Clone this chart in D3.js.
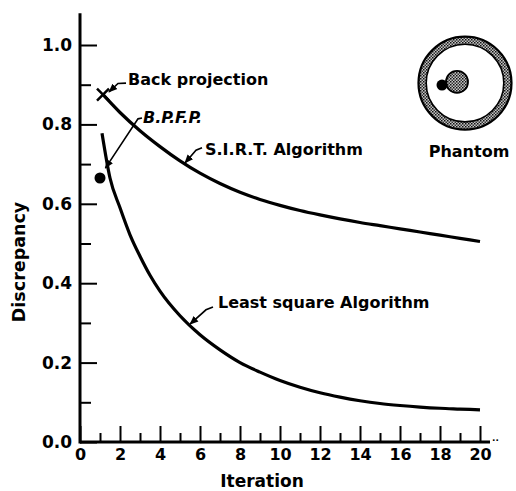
<!DOCTYPE html>
<html>
<head>
<meta charset="utf-8">
<script src="https://cdn.jsdelivr.net/npm/d3@7/dist/d3.min.js"></script>
<style>
  body { margin: 0; background: #fff; }
  svg { display: block; }
  text { font-family: "DejaVu Sans", sans-serif; font-weight: bold; fill: #000; }
</style>
</head>
<body>
<svg width="516" height="491"></svg>
<script>
// values
var sirtIter = [1.15, 2, 3, 4, 5, 6, 7, 8, 9, 10, 11, 12, 13, 14, 15, 16, 17, 18, 19, 20];
var sirtVals = [0.875, 0.83, 0.784, 0.744, 0.708, 0.677, 0.651, 0.629, 0.611, 0.596,
                0.583, 0.572, 0.562, 0.553, 0.545, 0.537, 0.529, 0.521, 0.513, 0.505];
var lsqIter = [1.1, 1.5, 2, 2.5, 3, 3.5, 4, 5, 6, 7, 8, 9, 10, 11, 12, 13, 14, 15, 16, 17, 18, 19, 20];
var lsqVals = [0.778, 0.665, 0.59, 0.522, 0.468, 0.42, 0.38, 0.318, 0.27, 0.232, 0.20, 0.176, 0.155,
               0.138, 0.124, 0.113, 0.104, 0.097, 0.092, 0.088, 0.085, 0.083, 0.081];
var backProj = {it: 1.15, v: 0.875};
var bpfp = {it: 1.0, v: 0.665};
var xMajor = [0, 2, 4, 6, 8, 10, 12, 14, 16, 18, 20];
var xMinor = [1, 3, 5, 7, 9, 11, 13, 15, 17, 19];
var yMajor = [0, 0.2, 0.4, 0.6, 0.8, 1.0];
var yMinor = [0.1, 0.3, 0.5, 0.7, 0.9];

var svg = d3.select('svg');
var x = d3.scaleLinear().domain([0, 20]).range([80, 480]);
var y = d3.scaleLinear().domain([0, 1]).range([442, 45]);

// stipple for the phantom
var defs = svg.append('defs');
var pat = defs.append('pattern').attr('id', 'stip')
  .attr('width', 3).attr('height', 3).attr('patternUnits', 'userSpaceOnUse');
pat.append('rect').attr('width', 3).attr('height', 3).attr('fill', '#c4c4c4');
pat.append('rect').attr('width', 1.5).attr('height', 1.5).attr('fill', '#111');
pat.append('rect').attr('x', 1.5).attr('y', 1.5).attr('width', 1.5).attr('height', 1.5).attr('fill', '#333');

defs.append('marker').attr('id', 'arr')
  .attr('viewBox', '0 0 10 10').attr('refX', 9).attr('refY', 5)
  .attr('markerWidth', 9).attr('markerHeight', 9).attr('markerUnits', 'userSpaceOnUse')
  .attr('orient', 'auto')
  .append('path').attr('d', 'M0,1L10,5L0,9Z').attr('fill', '#000');

// axes
var yAx = svg.append('g').attr('transform', 'translate(' + x(0) + ',0)')
  .call(d3.axisLeft(y).tickValues(yMajor).tickSize(-17).tickPadding(8)
    .tickFormat(d3.format('.1f')));
svg.append('g').attr('transform', 'translate(' + x(0) + ',0)')
  .call(d3.axisLeft(y).tickValues(yMinor).tickSize(-11).tickFormat(''));
var xAx = svg.append('g').attr('transform', 'translate(0,' + y(0) + ')')
  .call(d3.axisBottom(x).tickValues(xMajor).tickSize(-16).tickPadding(7));
svg.append('g').attr('transform', 'translate(0,' + y(0) + ')')
  .call(d3.axisBottom(x).tickValues(xMinor).tickSize(-9).tickFormat(''));

svg.selectAll('.domain').remove();
svg.selectAll('.tick line').attr('stroke', '#000').attr('stroke-width', 2);
svg.selectAll('.tick text').style('font-size', '16px').attr('fill', '#000');
yAx.selectAll('.tick text').style('font-size', '17px');

svg.append('line').attr('x1', x(0)).attr('x2', x(0)).attr('y1', y(0) + 1.5).attr('y2', y(1.08))
  .attr('stroke', '#000').attr('stroke-width', 3);
svg.append('line').attr('x1', x(0)).attr('x2', x(20.5)).attr('y1', y(0)).attr('y2', y(0))
  .attr('stroke', '#000').attr('stroke-width', 3);
svg.append('text').attr('x', x(20.6)).attr('y', y(0) - 1).style('font-size', '9px').text('..');

svg.append('text').attr('x', 262).attr('y', 487).attr('text-anchor', 'middle')
  .style('font-size', '17px').text('Iteration');
svg.append('text').attr('transform', 'translate(25,262) rotate(-90)').attr('text-anchor', 'middle')
  .style('font-size', '17.5px').text('Discrepancy');

// curves
var line = d3.line().curve(d3.curveMonotoneX)
  .x(function(d) { return x(d[0]); }).y(function(d) { return y(d[1]); });
svg.append('path').datum(d3.zip(sirtIter, sirtVals)).attr('d', line)
  .attr('fill', 'none').attr('stroke', '#000').attr('stroke-width', 3.2);
svg.append('path').datum(d3.zip(lsqIter, lsqVals)).attr('d', line)
  .attr('fill', 'none').attr('stroke', '#000').attr('stroke-width', 3.2);

// markers
var bx = x(backProj.it), by = y(backProj.v);
svg.append('path').attr('d', 'M' + (bx - 6) + ',' + (by - 6) + 'L' + (bx + 6) + ',' + (by + 6) +
  'M' + (bx - 6) + ',' + (by + 6) + 'L' + (bx + 6) + ',' + (by - 6))
  .attr('stroke', '#000').attr('stroke-width', 2.5);
svg.append('circle').attr('cx', x(bpfp.it)).attr('cy', y(bpfp.v)).attr('r', 5.5).attr('fill', '#000');

// labels with leader arrows (data coords)
var notes = [
  {t: 'Back projection', tx: 2.4, ty: 0.899, size: 16, style: 'normal',
   path: [[2.3, 0.904], [1.9, 0.903], [1.45, 0.882]]},
  {t: 'B.P.F.P.', tx: 3.15, ty: 0.804, size: 16, style: 'italic',
   path: [[3.1, 0.816], [2.9, 0.814], [1.27, 0.69]]},
  {t: 'S.I.R.T. Algorithm', tx: 6.25, ty: 0.723, size: 16, style: 'normal',
   path: [[6.1, 0.741], [5.8, 0.735], [5.25, 0.703]]},
  {t: 'Least square Algorithm', tx: 6.9, ty: 0.338, size: 16, style: 'normal',
   path: [[6.65, 0.34], [6.3, 0.333], [5.5, 0.297]]}
];
var lead = d3.line().curve(d3.curveLinear)
  .x(function(d) { return x(d[0]); }).y(function(d) { return y(d[1]); });
notes.forEach(function(n) {
  svg.append('text').attr('x', x(n.tx)).attr('y', y(n.ty))
    .style('font-size', n.size + 'px').style('font-style', n.style).text(n.t);
  svg.append('path').attr('d', lead(n.path)).attr('fill', 'none')
    .attr('stroke', '#000').attr('stroke-width', 1.6).attr('marker-end', 'url(#arr)');
});

// phantom sketch
var pcx = x(19.25), pcy = y(0.904);
svg.append('circle').attr('cx', pcx).attr('cy', pcy).attr('r', 42.5)
  .attr('fill', 'none').attr('stroke', 'url(#stip)').attr('stroke-width', 7.5);
svg.append('circle').attr('cx', pcx).attr('cy', pcy).attr('r', 46.5)
  .attr('fill', 'none').attr('stroke', '#000').attr('stroke-width', 2.2);
svg.append('circle').attr('cx', pcx).attr('cy', pcy).attr('r', 38.8)
  .attr('fill', 'none').attr('stroke', '#000').attr('stroke-width', 1.6);
svg.append('circle').attr('cx', x(18.85)).attr('cy', y(0.907)).attr('r', 11)
  .attr('fill', 'url(#stip)').attr('stroke', '#000').attr('stroke-width', 1.8);
svg.append('circle').attr('cx', x(18.1)).attr('cy', y(0.899)).attr('r', 5.5).attr('fill', '#000');
svg.append('text').attr('x', x(19.45)).attr('y', y(0.718)).attr('text-anchor', 'middle')
  .style('font-size', '16px').text('Phantom');
</script>
</body>
</html>
